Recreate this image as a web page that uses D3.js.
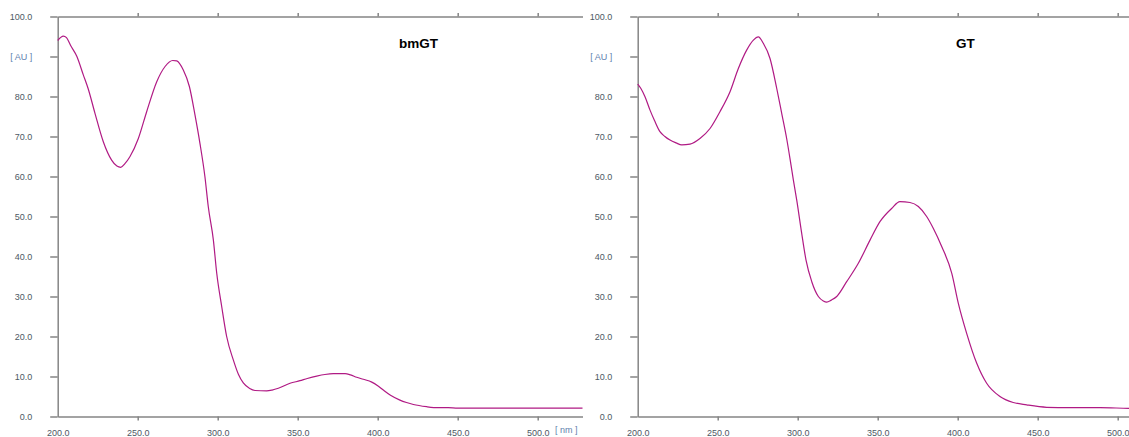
<!DOCTYPE html>
<html>
<head>
<meta charset="utf-8">
<script src="https://cdn.jsdelivr.net/npm/d3@7"></script>
<style>
  html, body { margin: 0; padding: 0; background: #fff; }
  svg { display: block; }
  .axis text { font-family: "Liberation Sans", Arial, sans-serif; font-size: 9px; fill: #4e5864; }
  .axis path, .axis line { stroke: #858585; stroke-width: 1.5; }
</style>
</head>
<body>
<svg id="chart" width="1129" height="437"></svg>
<script>
// Absorbance spectra, wavelength in nm, absorbance in AU
const bmgtWavelength = [200, 203.5, 205.5, 208, 212, 216, 219, 223.3, 228.5, 233.7, 237, 239.4, 242, 245.2, 250.4, 255.6, 261.9, 267.1, 271.9, 274.4, 278.5, 282.3, 285.8, 288.9, 292, 294.1, 297.3, 299.4, 302.5, 305.6, 309.8, 313, 316, 320, 323.3, 330.6, 334, 337.9, 345.2, 351.4, 356, 361.9, 367, 372.3, 379.6, 383, 386.9, 391, 396.3, 400, 403.5, 408, 413.9, 418, 422.3, 430.6, 438, 444, 450, 470, 490, 510, 528];
const bmgtAbsorbance = [94.0, 95.1, 94.7, 92.8, 90.0, 85.4, 82.0, 75.8, 68.7, 64.1, 62.6, 62.3, 63.2, 65.0, 69.5, 76.2, 83.7, 87.5, 89.0, 88.9, 86.6, 82.5, 75.4, 68.3, 60.0, 52.5, 44.1, 35.8, 27.5, 20.0, 14.1, 10.5, 8.4, 7.0, 6.5, 6.4, 6.6, 7.05, 8.3, 8.95, 9.5, 10.1, 10.5, 10.7, 10.7, 10.4, 9.8, 9.3, 8.6, 7.7, 6.6, 5.3, 4.1, 3.5, 3.0, 2.45, 2.2, 2.2, 2.1, 2.1, 2.1, 2.1, 2.1];

const gtWavelength = [200, 202, 204.5, 207.7, 210.5, 213.9, 217, 220.2, 224, 227.5, 232.7, 238.9, 245.2, 251.4, 257.7, 262.9, 268.1, 272.3, 275.4, 278.5, 282.7, 286.9, 290, 293.1, 295.8, 297.3, 299.4, 302.5, 305.2, 308.8, 312.9, 316, 318.1, 321, 324.4, 330.6, 337.9, 345.2, 351.4, 358.7, 363.9, 370.2, 375.4, 380.6, 384.8, 390, 396.3, 400.4, 405.6, 411.9, 418.1, 426.4, 434.7, 443.1, 455.6, 470, 489, 506.7, 528];
const gtAbsorbance = [83.1, 82.0, 80.0, 76.6, 74.0, 71.2, 70.0, 69.1, 68.4, 67.9, 68.1, 69.5, 72.0, 76.2, 81.2, 87.0, 91.6, 94.1, 94.9, 93.3, 89.5, 82.0, 75.8, 69.5, 62.9, 59.1, 54.1, 45.8, 39.1, 33.7, 30.0, 28.9, 28.6, 29.1, 30.0, 33.7, 38.3, 44.1, 48.7, 52.0, 53.7, 53.5, 52.5, 50.0, 47.0, 42.5, 35.8, 28.3, 20.8, 13.3, 8.3, 5.0, 3.5, 2.9, 2.3, 2.2, 2.2, 2.05, 2.0];

const panelTitles = ["bmGT", "GT"];
const xTickValues = [200, 250, 300, 350, 400, 450, 500];
const yTickValues = [0, 10, 20, 30, 40, 50, 60, 70, 80, 90, 100];
const yUnitLabel = "[ AU ]";
const xUnitLabel = "[ nm ]";

const panels = [
  { title: panelTitles[0], wl: bmgtWavelength, ab: bmgtAbsorbance, titleX: 399 },
  { title: panelTitles[1], wl: gtWavelength, ab: gtAbsorbance, titleX: 376 }
];

const svg = d3.select("#chart");
const panelWidth = 580;

const x = d3.scaleLinear().domain([200, 528]).range([57.7, 582.5]);
const y = d3.scaleLinear().domain([0, 100]).range([416.5, 16.5]);

panels.forEach((p, i) => {
  const g = svg.append("g").attr("transform", `translate(${i * panelWidth},0)`);

  // left axis: outward ticks, unit label replaces the 90 tick label
  const yAxis = d3.axisLeft(y)
    .tickValues(yTickValues)
    .tickSize(7.5)
    .tickSizeOuter(0)
    .tickPadding(18)
    .tickFormat(d => d === 90 ? yUnitLabel : d3.format(".1f")(d));
  const ya = g.append("g").attr("class", "axis").attr("transform", `translate(${x(200)},0)`).call(yAxis);
  ya.selectAll("text").filter(d => d === 90).style("fill", "#5f7fae");

  // bottom axis with labels
  const xAxis = d3.axisBottom(x)
    .tickValues(xTickValues)
    .tickSize(4)
    .tickSizeOuter(0)
    .tickPadding(9)
    .tickFormat(d3.format(".1f"));
  const xa = g.append("g").attr("class", "axis").attr("transform", `translate(0,${y(0)})`).call(xAxis);
  xa.selectAll(".tick").filter(d => d === 200).select("line").remove();

  // top frame line with small upward ticks
  const topAxis = d3.axisTop(x)
    .tickValues(xTickValues.filter(v => v > 200))
    .tickSize(3.5)
    .tickSizeOuter(0)
    .tickFormat("");
  g.append("g").attr("class", "axis").attr("transform", `translate(0,${y(100)})`).call(topAxis);

  if (i === 0) {
    g.append("text")
      .attr("x", 555).attr("y", 432.5)
      .style("font-family", '"Liberation Sans", Arial, sans-serif')
      .style("font-size", "9px")
      .style("fill", "#5f7fae")
      .text(xUnitLabel);
  }

  const line = d3.line()
    .x((d, k) => x(p.wl[k]))
    .y((d, k) => y(p.ab[k]))
    .curve(d3.curveMonotoneX);

  g.append("path")
    .datum(p.ab)
    .attr("d", line)
    .attr("fill", "none")
    .attr("stroke", "#b01a84")
    .attr("stroke-width", 1.2);

  g.append("text")
    .attr("x", p.titleX).attr("y", 48)
    .style("font-family", '"Liberation Sans", Arial, sans-serif')
    .style("font-size", "13.5px")
    .style("font-weight", "bold")
    .style("fill", "#000")
    .text(p.title);
});
</script>
</body>
</html>
